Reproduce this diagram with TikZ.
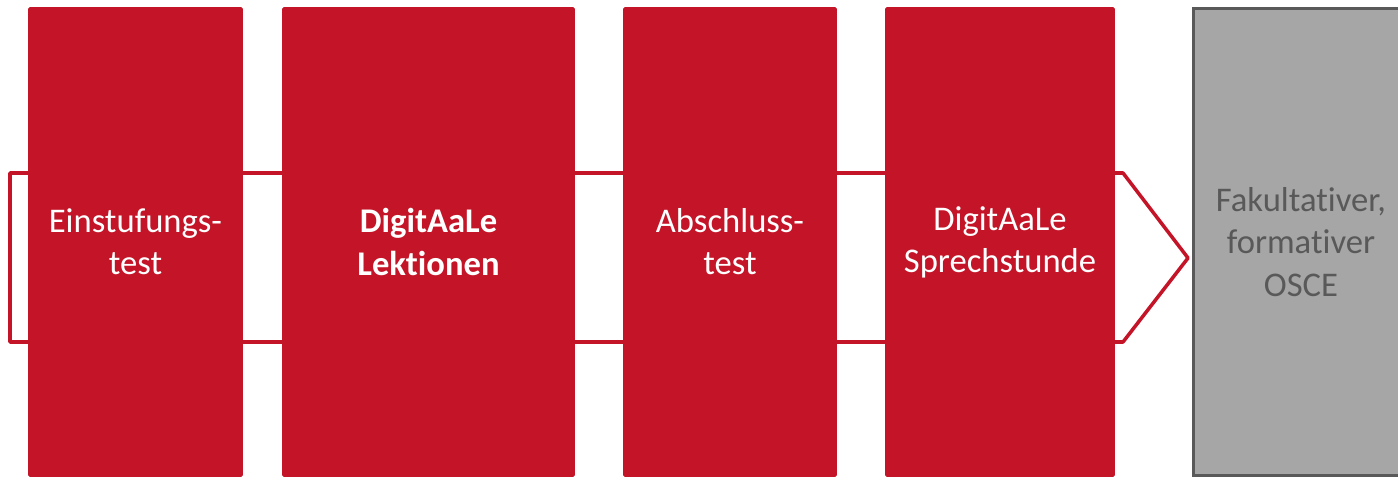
\documentclass[tikz,border=0pt]{standalone}
\usepackage{fontspec}
\setmainfont{Carlito}[Ligatures=NoCommon]
\usepackage{xcolor}
\definecolor{stepred}{RGB}{196,20,40}
\definecolor{osceGray}{RGB}{166,166,166}
\definecolor{osceLine}{RGB}{89,89,89}

\begin{document}
\begin{tikzpicture}[x=0.02cm,y=-0.02cm,
        redbox/.style={fill=stepred,text=white,rounded corners=1pt,inner sep=0pt,align=center,minimum height=9.4cm,font=\fontsize{19.7}{24}\selectfont},
        graybox/.style={fill=osceGray,draw=osceLine,line width=1.7pt,text=osceLine,inner sep=0pt,align=center,minimum height=9.34cm,font=\fontsize{19.7}{24}\selectfont}]
        \useasboundingbox (0,0) rectangle (1398,479);
        \draw[stepred,line width=2pt,line join=round] (10,173) -- (1123,173) -- (1188,258) -- (1123,342) -- (10,342) -- cycle;
        \node[redbox,minimum width=4.3cm] (einst) at (135.5,242) {Einstufungs-\\test};
        \node[redbox,minimum width=5.86cm] (lekt) at (428.5,242) {\textbf{DigitAaLe}\\\textbf{Lektionen}};
        \node[redbox,minimum width=4.28cm] (absch) at (730,242) {Abschluss-\\test};
        \node[redbox,minimum width=4.6cm] (sprech) at (1000,242) {DigitAaLe\\Sprechstunde};
        \node[graybox,minimum width=4.3cm] (osce) at (1301,242) {Fakultativer,\\formativer\\OSCE};
    \end{tikzpicture}
\end{document}
